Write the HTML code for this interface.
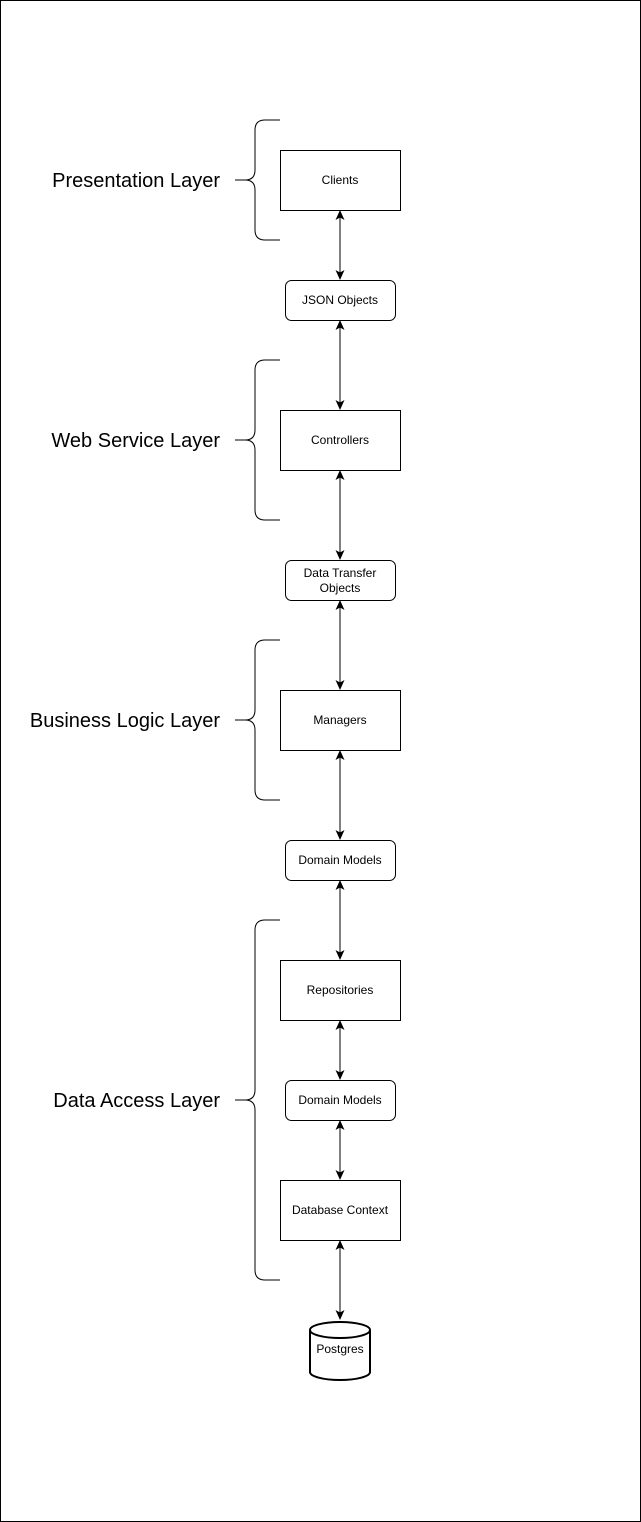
<!DOCTYPE html>
<html><head><meta charset="utf-8"><style>
html,body{margin:0;padding:0;background:#fff;}
svg{display:block;}
text{font-family:"Liberation Sans",Arial,sans-serif;fill:#000;}
</style></head><body>
<svg width="641" height="1522" viewBox="0 0 641 1522" xmlns="http://www.w3.org/2000/svg">
<defs>
<marker id="a" markerWidth="12" markerHeight="12" refX="9" refY="4.5" orient="auto-start-reverse" markerUnits="userSpaceOnUse">
<path d="M0,0 L10,4.5 L0,9 L2.5,4.5 Z" fill="#000"/>
</marker>
</defs>
<rect x="0.5" y="0.5" width="640" height="1521" fill="#fff" stroke="#000"/>
<g fill="none" stroke="#000" stroke-width="1">
<path d="M280,120 H265 Q255,120 255,130 V170 Q255,180 245,180 H235 M245,180 Q255,180 255,190 V230 Q255,240 265,240 H280"/>
<path d="M280,360 H265 Q255,360 255,370 V430 Q255,440 245,440 H235 M245,440 Q255,440 255,450 V510 Q255,520 265,520 H280"/>
<path d="M280,640 H265 Q255,640 255,650 V710 Q255,720 245,720 H235 M245,720 Q255,720 255,730 V790 Q255,800 265,800 H280"/>
<path d="M280,920 H265 Q255,920 255,930 V1090 Q255,1100 245,1100 H235 M245,1100 Q255,1100 255,1110 V1270 Q255,1280 265,1280 H280"/>
</g>
<g font-size="20" text-anchor="end">
<text x="220" y="187">Presentation Layer</text>
<text x="220" y="447">Web Service Layer</text>
<text x="220" y="727">Business Logic Layer</text>
<text x="220" y="1107">Data Access Layer</text>
</g>
<g stroke="#000" stroke-width="1" fill="none" marker-start="url(#a)" marker-end="url(#a)">
<line x1="340" y1="211" x2="340" y2="279"/>
<line x1="340" y1="321" x2="340" y2="409"/>
<line x1="340" y1="471" x2="340" y2="559"/>
<line x1="340" y1="601" x2="340" y2="689"/>
<line x1="340" y1="751" x2="340" y2="839"/>
<line x1="340" y1="881" x2="340" y2="959"/>
<line x1="340" y1="1021" x2="340" y2="1079"/>
<line x1="340" y1="1121" x2="340" y2="1179"/>
<line x1="340" y1="1241" x2="340" y2="1319"/>
</g>
<g fill="#fff" stroke="#000" stroke-width="1">
<rect x="280.5" y="150.5" width="120" height="60"/>
<rect x="280.5" y="410.5" width="120" height="60"/>
<rect x="280.5" y="690.5" width="120" height="60"/>
<rect x="280.5" y="960.5" width="120" height="60"/>
<rect x="280.5" y="1180.5" width="120" height="60"/>
<rect x="285.5" y="280.5" width="110" height="40" rx="6"/>
<rect x="285.5" y="560.5" width="110" height="40" rx="6"/>
<rect x="285.5" y="840.5" width="110" height="40" rx="6"/>
<rect x="285.5" y="1080.5" width="110" height="40" rx="6"/>
</g>
<g stroke="#000" stroke-width="2" fill="#fff">
<path d="M310,1330 A30,8 0 0 1 370,1330 V1372 A30,8 0 0 1 310,1372 Z"/>
<path d="M310,1330 A30,8 0 0 0 370,1330" fill="none"/>
</g>
<g font-size="12" text-anchor="middle">
<text x="340" y="184">Clients</text>
<text x="340" y="304">JSON Objects</text>
<text x="340" y="444">Controllers</text>
<text x="340" y="577">Data Transfer</text>
<text x="340" y="592">Objects</text>
<text x="340" y="724">Managers</text>
<text x="340" y="864">Domain Models</text>
<text x="340" y="994">Repositories</text>
<text x="340" y="1104">Domain Models</text>
<text x="340" y="1214">Database Context</text>
<text x="340" y="1353">Postgres</text>
</g>
</svg>
</body></html>
